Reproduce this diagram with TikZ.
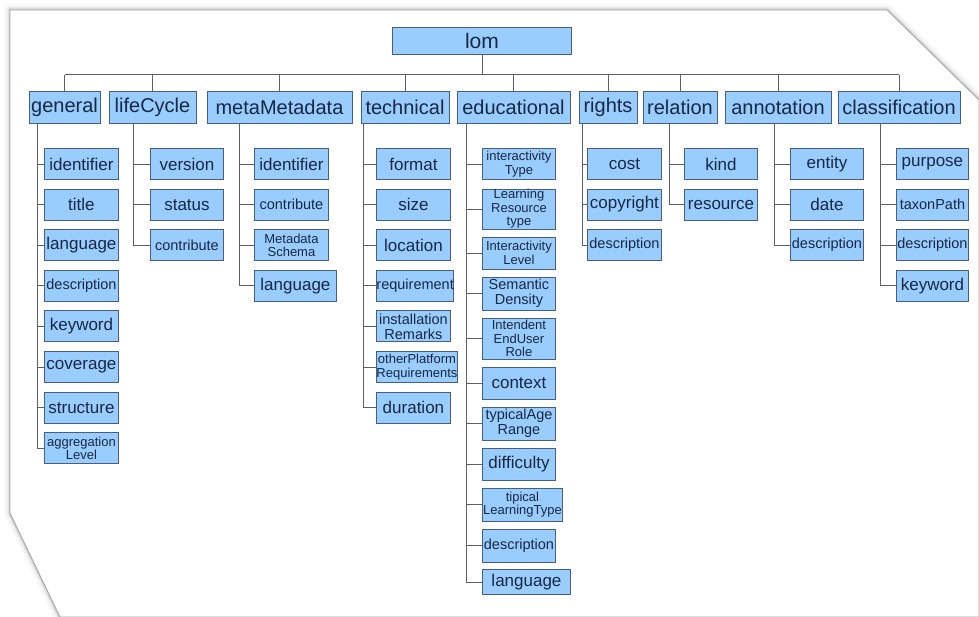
\documentclass[tikz,border=0pt]{standalone}
\usepackage{fontspec}
\setmainfont{Liberation Sans}
\definecolor{boxfill}{RGB}{153,204,255}
\definecolor{boxline}{RGB}{70,95,125}
\definecolor{boxtext}{RGB}{25,40,65}
\definecolor{treeline}{RGB}{95,95,95}
\begin{document}
\begin{tikzpicture}[x=1pt,y=-1pt,
    box/.style={draw=boxline,fill=boxfill,text=boxtext,line width=0.9pt,inner sep=0pt,align=center},
    root/.style={box,minimum width=179,minimum height=27,font=\fontsize{21}{23}\selectfont},
    branch/.style={box,minimum height=32,font=\fontsize{20}{22}\selectfont},
    leaf/.style={box,anchor=west,minimum height=31},
    bigleaf/.style={font=\fontsize{17}{18}\selectfont},
    midleaf/.style={font=\fontsize{14.5}{15}\selectfont},
    smallleaf/.style={font=\fontsize{13}{13.5}\selectfont},
    tree/.style={draw=treeline,line width=0.9pt}]
    \useasboundingbox (0,0) rectangle (979,617);
    \fill[white] (0,0) rectangle (979,617);
    \foreach \w/\c in {12/5,8/10,5/20,2.5/40}
        \draw[line width=\w,gray!\c,line join=round] (10,10) -- (887,10) -- (979,100) -- (979,617) -- (60,617) -- (10,513) -- cycle;
    \filldraw[fill=white,draw=gray!70,line width=0.8pt] (10,10) -- (887,10) -- (979,100) -- (979,617) -- (60,617) -- (10,513) -- cycle;

    \node[root] (lom) at (482,41) {lom};
    \node[branch,minimum width=71] (general) at (64.5,107) {general};
    \node[branch,minimum width=87] (lifeCycle) at (152.5,107) {lifeCycle};
    \node[branch,minimum width=145] (metaMetadata) at (279.5,107) {metaMetadata};
    \node[branch,minimum width=88] (technical) at (405,107) {technical};
    \node[branch,minimum width=113] (educational) at (513.5,107) {educational};
    \node[branch,minimum width=58] (rights) at (608,107) {rights};
    \node[branch,minimum width=74] (relation) at (680,107) {relation};
    \node[branch,minimum width=106] (annotation) at (778,107) {annotation};
    \node[branch,minimum width=122] (classification) at (899,107) {classification};

    \path (general.north) ++(0,-16) coordinate (busL);
    \path (classification.north) ++(0,-16) coordinate (busR);
    \draw[tree] (busL) -- (busR);
    \draw[tree] (lom.south) -- (lom.south |- busL);
    \foreach \n in {general,lifeCycle,metaMetadata,technical,educational,rights,relation,annotation,classification}
        \draw[tree] (\n.north) -- (\n.north |- busL);

    \foreach \txt/\fs/\w [count=\i from 0] in {identifier/bigleaf/74,title/bigleaf/74,language/bigleaf/74,description/midleaf/74,keyword/bigleaf/74,coverage/bigleaf/74,structure/bigleaf/74,aggregation\\Level/smallleaf/74}
        \node[leaf,\fs,minimum width=\w] (general\i) at (44,{164+40.6*\i}) {\txt};
    \foreach \txt/\fs/\w [count=\i from 0] in {version/bigleaf/73,status/bigleaf/73,contribute/midleaf/73}
        \node[leaf,\fs,minimum width=\w] (lifeCycle\i) at (150,{164+40.6*\i}) {\txt};
    \foreach \txt/\fs/\w [count=\i from 0] in {identifier/bigleaf/74,contribute/midleaf/74,Metadata\\Schema/smallleaf/74,language/bigleaf/82}
        \node[leaf,\fs,minimum width=\w] (metaMetadata\i) at (254,{164+40.6*\i}) {\txt};
    \foreach \txt/\fs/\w [count=\i from 0] in {format/bigleaf/74,size/bigleaf/74,location/bigleaf/74,requirement/midleaf/74,installation\\Remarks/midleaf/74,otherPlatform\\Requirements/smallleaf/81,duration/bigleaf/74}
        \node[leaf,\fs,minimum width=\w] (technical\i) at (376,{164+40.6*\i}) {\txt};
    \foreach \y/\h/\txt/\fs/\w [count=\i from 0] in {164/31/interactivity\\Type/smallleaf/73,209/40/Learning\\Resource\\type/smallleaf/73,253/32/Interactivity\\Level/smallleaf/73,293.5/33/Semantic\\Density/midleaf/73,338.5/41/Intendent\\EndUser\\Role/smallleaf/73,383/32/context/bigleaf/73,423.5/33/typicalAge\\Range/midleaf/73,464/32/difficulty/bigleaf/73,504.5/33/tipical\\LearningType/smallleaf/80,545.5/33/description/midleaf/73,582/25/language/bigleaf/88}
        \node[leaf,\fs,minimum width=\w,minimum height=\h] (educational\i) at (482,\y) {\txt};
    \foreach \txt/\fs/\w [count=\i from 0] in {cost/bigleaf/74,copyright/bigleaf/74,description/midleaf/74}
        \node[leaf,\fs,minimum width=\w] (rights\i) at (587,{164+40.6*\i}) {\txt};
    \foreach \txt/\fs/\w [count=\i from 0] in {kind/bigleaf/73,resource/bigleaf/73}
        \node[leaf,\fs,minimum width=\w] (relation\i) at (684,{164+40.6*\i}) {\txt};
    \foreach \txt/\fs/\w [count=\i from 0] in {entity/bigleaf/73,date/bigleaf/73,description/midleaf/73}
        \node[leaf,\fs,minimum width=\w] (annotation\i) at (790,{164+40.6*\i}) {\txt};
    \foreach \txt/\fs/\w [count=\i from 0] in {purpose/bigleaf/72,taxonPath/midleaf/72,description/midleaf/72,keyword/bigleaf/72}
        \node[leaf,\fs,minimum width=\w] (classification\i) at (896,{164+40.6*\i}) {\txt};

    \foreach \n/\sx/\last in {general/37/7,lifeCycle/133/2,metaMetadata/239/3,technical/363/6,educational/466/10,rights/582/2,relation/669/1,annotation/774/2,classification/880/3} {
        \coordinate (\n spine) at (\sx,123);
        \draw[tree] (\n spine) |- (\n\last.west);
        \foreach \i in {0,...,\last}
            \draw[tree] (\n spine |- \n\i.west) -- (\n\i.west);
    }
\end{tikzpicture}
\end{document}
